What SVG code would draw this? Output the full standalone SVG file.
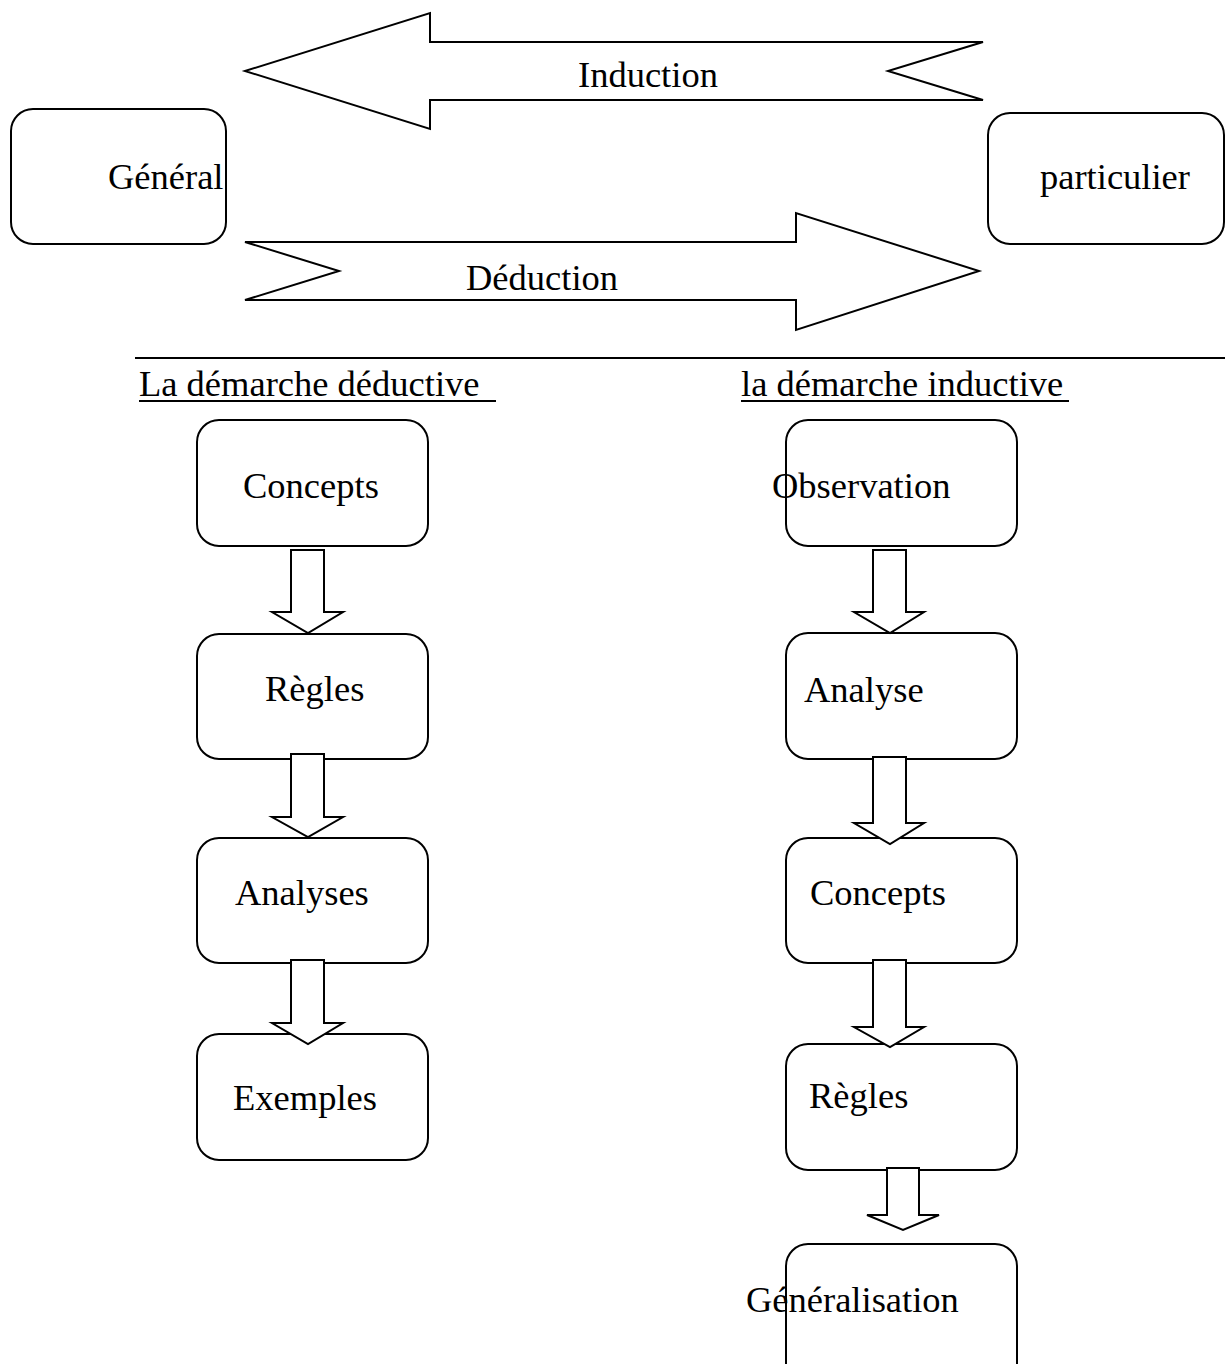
<svg xmlns="http://www.w3.org/2000/svg" width="1225" height="1364" viewBox="0 0 1225 1364">
<style>
  .box { fill: none; stroke: #000; stroke-width: 2; }
  .arr { fill: #fff; stroke: #000; stroke-width: 2; stroke-linejoin: miter; }
  .t { font-family: "Liberation Serif", "Times New Roman", serif; font-size: 36.5px; fill: #000; }
  .ul { stroke: #000; stroke-width: 2; }
</style>
<rect width="1225" height="1364" fill="#fff"/>

<g id="general">
  <rect class="box" x="11" y="109" width="215" height="135" rx="22"/>
  <text class="t" x="108" y="189">Général</text>
</g>
<g id="particulier">
  <rect class="box" x="988" y="113" width="236" height="131" rx="22"/>
  <text class="t" x="1040" y="189">particulier</text>
</g>

<g id="induction">
  <polygon class="arr" points="245,71 430,13 430,42 983,42 888,71 983,100 430,100 430,129"/>
  <text class="t" x="578" y="87">Induction</text>
</g>
<g id="deduction">
  <polygon class="arr" points="245,242 796,242 796,213 979,271 796,330 796,300 245,300 339,271"/>
  <text class="t" x="466" y="290">Déduction</text>
</g>

<g id="separator">
  <line class="ul" x1="135" y1="358" x2="1225" y2="358"/>
</g>

<g id="heading-deductive">
  <text class="t" x="139" y="396">La démarche déductive </text>
  <line class="ul" x1="139" y1="401" x2="496" y2="401"/>
</g>
<g id="heading-inductive">
  <text class="t" x="741" y="396">la démarche inductive</text>
  <line class="ul" x1="741" y1="401" x2="1069" y2="401"/>
</g>

<g id="d-concepts">
  <rect class="box" x="197" y="420" width="231" height="126" rx="22"/>
  <text class="t" x="243" y="498">Concepts</text>
</g>
<g id="d-regles">
  <rect class="box" x="197" y="634" width="231" height="125" rx="22"/>
  <text class="t" x="265" y="701">Règles</text>
</g>
<g id="d-analyses">
  <rect class="box" x="197" y="838" width="231" height="125" rx="22"/>
  <text class="t" x="235" y="905">Analyses</text>
</g>
<g id="d-exemples">
  <rect class="box" x="197" y="1034" width="231" height="126" rx="22"/>
  <text class="t" x="233" y="1110">Exemples</text>
</g>

<g id="i-observation">
  <rect class="box" x="786" y="420" width="231" height="126" rx="22"/>
  <text class="t" x="772" y="498">Observation</text>
</g>
<g id="i-analyse">
  <rect class="box" x="786" y="633" width="231" height="126" rx="22"/>
  <text class="t" x="804" y="702">Analyse</text>
</g>
<g id="i-concepts">
  <rect class="box" x="786" y="838" width="231" height="125" rx="22"/>
  <text class="t" x="810" y="905">Concepts</text>
</g>
<g id="i-regles">
  <rect class="box" x="786" y="1044" width="231" height="126" rx="22"/>
  <text class="t" x="809" y="1108">Règles</text>
</g>
<g id="i-generalisation">
  <rect class="box" x="786" y="1244" width="231" height="150" rx="22"/>
  <text class="t" x="746" y="1312">Généralisation</text>
</g>

<g id="connectors">
  <polygon class="arr" points="291,550 324,550 324,612 343,612 308,633 272,612 291,612"/>
  <polygon class="arr" points="291,754 324,754 324,817 343,817 308,837 272,817 291,817"/>
  <polygon class="arr" points="291,960 324,960 324,1023 343,1023 308,1044 272,1023 291,1023"/>
  <polygon class="arr" points="873,550 906,550 906,612 924,612 890,633 854,612 873,612"/>
  <polygon class="arr" points="873,757 906,757 906,823 924,823 890,844 854,823 873,823"/>
  <polygon class="arr" points="873,960 906,960 906,1027 924,1027 890,1047 854,1027 873,1027"/>
  <polygon class="arr" points="887,1168 919,1168 919,1215 939,1215 903,1230 867,1215 887,1215"/>
</g>
</svg>
